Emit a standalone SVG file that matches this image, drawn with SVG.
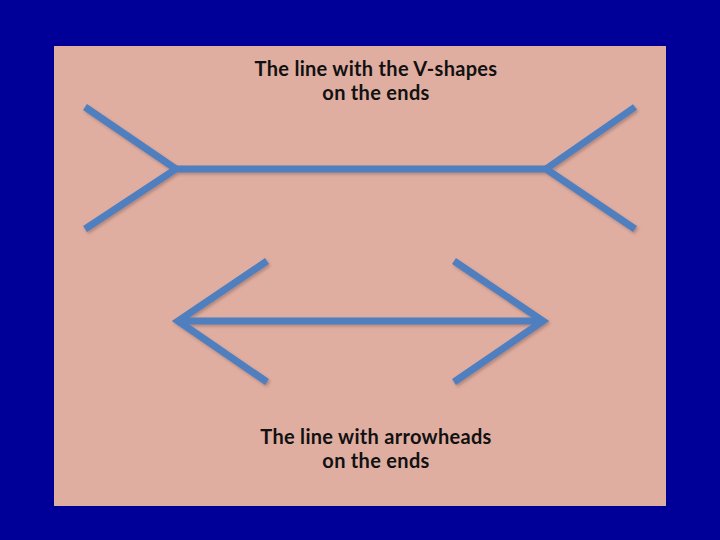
<svg xmlns="http://www.w3.org/2000/svg" width="720" height="540" viewBox="0 0 720 540">
<defs>
<style>
.ln{stroke:#4f7fbe;stroke-width:7;stroke-linecap:butt;stroke-linejoin:miter;fill:none}
.t{font-family:Lato,"Open Sans","Liberation Sans",sans-serif;font-weight:bold;font-size:20px;letter-spacing:0.3px;fill:#111;text-anchor:middle}
</style>
<filter id="sh" x="-10%" y="-20%" width="120%" height="140%">
<feDropShadow dx="1.5" dy="2" stdDeviation="1.5" flood-color="#5a3a30" flood-opacity="0.35"/>
</filter>
</defs>
<rect x="0" y="0" width="720" height="540" fill="#000098"/>
<rect x="54" y="46" width="612" height="460" fill="#e0aea1"/>
<g id="top-figure" filter="url(#sh)">
<polyline class="ln" points="85,107 176,169 85,229"/>
<line class="ln" x1="176" y1="169" x2="546" y2="169"/>
<polyline class="ln" points="635,107 546,169 635,229"/>
</g>
<g id="bottom-figure" filter="url(#sh)">
<polyline class="ln" points="267,261 178,321 267,382"/>
<line class="ln" x1="178" y1="321" x2="543" y2="321"/>
<polyline class="ln" points="454,261 543,321 454,382"/>
</g>
<g id="top-label">
<text class="t" x="376" y="76">The line with the V-shapes</text>
<text class="t" x="376" y="100">on the ends</text>
</g>
<g id="bottom-label">
<text class="t" x="376" y="444">The line with arrowheads</text>
<text class="t" x="376" y="468">on the ends</text>
</g>
</svg>
